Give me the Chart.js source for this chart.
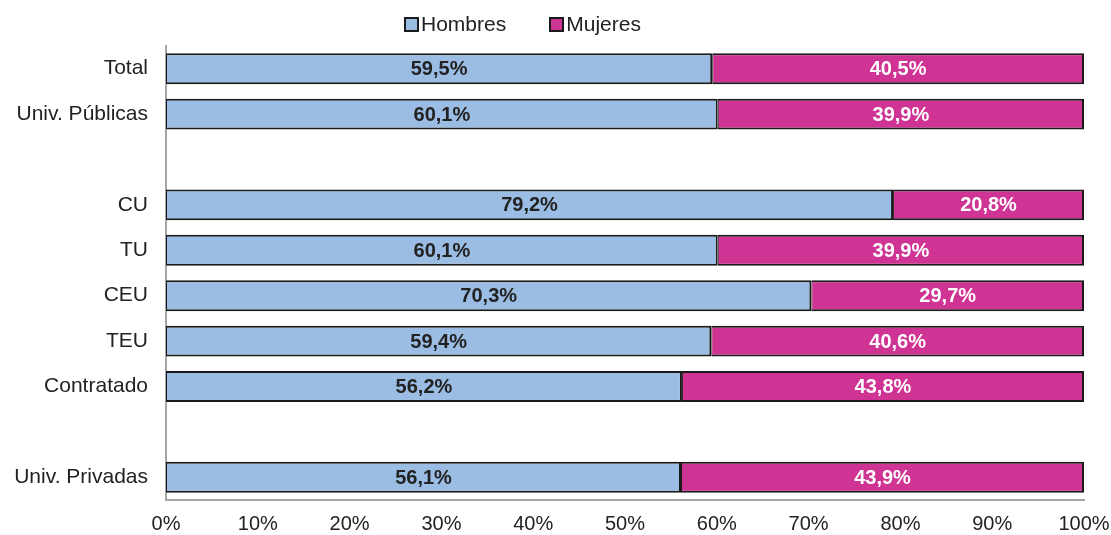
<!DOCTYPE html>
<html>
<head>
<meta charset="utf-8">
<script src="https://cdn.jsdelivr.net/npm/chart.js@4"></script>
<style>
  html, body { margin: 0; padding: 0; background: #fff; }
  #wrap { position: relative; width: 1111px; height: 535px; }
  #legend { position: absolute; top: 12px; left: 404px; font: 21px "Liberation Sans", Arial, sans-serif; color: #222; display: flex; }
  #legend span.item { display: flex; align-items: center; margin-right: 43px; }
  #legend span.box { width: 11px; height: 11px; border: 2px solid #1a1a1a; margin-right: 2px; display: inline-block; }
</style>
</head>
<body>
<div id="wrap">
  <canvas id="chart" width="1111" height="535"></canvas>
  <div id="legend"></div>
</div>
<script>
// categories (blank rows separate the groups)
const categories = ["Total", "Univ. Públicas", "", "CU", "TU", "CEU", "TEU", "Contratado", "", "Univ. Privadas"];
const hombres = [59.5, 60.1, null, 79.2, 60.1, 70.3, 59.4, 56.2, null, 56.1];
const mujeres = [40.5, 39.9, null, 20.8, 39.9, 29.7, 40.6, 43.8, null, 43.9];
const seriesNames = ["Hombres", "Mujeres"];
const colors = ["#9bbde4", "#cf3393"];
const labelColors = ["#222222", "#ffffff"];

// build the html legend
const legend = document.getElementById("legend");
seriesNames.forEach((name, i) => {
  const item = document.createElement("span");
  item.className = "item";
  item.innerHTML = `<span class="box" style="background:${colors[i]}"></span>${name}`;
  legend.appendChild(item);
});

// value labels in the middle of each segment
const barLabels = {
  id: "barLabels",
  afterDatasetsDraw(chart) {
    const ctx = chart.ctx;
    ctx.save();
    ctx.font = "bold 20px 'Liberation Sans', Arial, sans-serif";
    ctx.textAlign = "center";
    ctx.textBaseline = "middle";
    chart.data.datasets.forEach((ds, di) => {
      const meta = chart.getDatasetMeta(di);
      meta.data.forEach((bar, i) => {
        const v = ds.data[i];
        if (v == null) return;
        const p = bar.getProps(["x", "y", "base"], true);
        ctx.fillStyle = labelColors[di];
        ctx.fillText(v.toFixed(1).replace(".", ",") + "%", (p.x + p.base) / 2, p.y + 1);
      });
    });
    ctx.restore();
  }
};

const ctx = document.getElementById("chart").getContext("2d");
new Chart(ctx, {
  type: "bar",
  data: {
    labels: categories,
    datasets: seriesNames.map((name, i) => ({
      label: name,
      data: i === 0 ? hombres : mujeres,
      backgroundColor: colors[i],
      borderColor: "#1a1a1a",
      borderWidth: { top: 2, bottom: 2, left: 1, right: 2 },
      borderSkipped: false,
      barPercentage: 0.68,
      categoryPercentage: 1
    }))
  },
  options: {
    indexAxis: "y",
    responsive: false,
    animation: false,
    layout: { padding: { top: 46, right: 27, bottom: 0, left: 0 } },
    plugins: { legend: { display: false }, tooltip: { enabled: false } },
    scales: {
      x: {
        stacked: true,
        min: 0,
        max: 100,
        ticks: {
          stepSize: 10,
          color: "#222",
          font: { family: "'Liberation Sans', Arial, sans-serif", size: 20 },
          callback: v => v + "%",
          padding: 12
        },
        grid: { display: false, drawTicks: false },
        border: { color: "#a6a6a6", width: 2 },
        afterFit(scale) { scale.height = 35; scale.paddingRight = 0; scale.paddingLeft = 0; }
      },
      y: {
        stacked: true,
        ticks: {
          color: "#222",
          font: { family: "'Liberation Sans', Arial, sans-serif", size: 21 },
          padding: 18
        },
        grid: { display: false, drawTicks: false },
        border: { color: "#a6a6a6", width: 2 },
        afterFit(scale) { scale.width = 166; }
      }
    }
  },
  plugins: [barLabels]
});
</script>
</body>
</html>
